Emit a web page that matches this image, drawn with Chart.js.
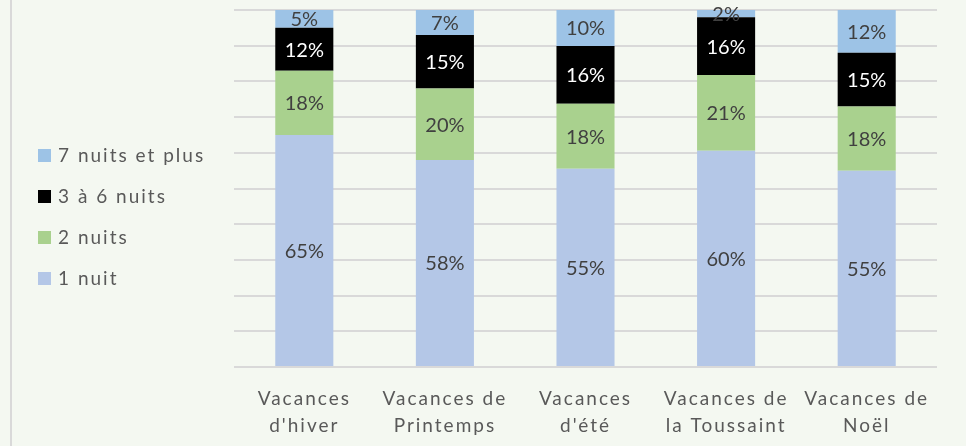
<!DOCTYPE html>
<html>
<head>
<meta charset="utf-8">
<script src="https://cdn.jsdelivr.net/npm/chart.js@4/dist/chart.umd.min.js"></script>
<style>
  html, body { margin: 0; padding: 0; background: #f4f8f1; }
  #wrap { position: relative; width: 966px; height: 446px; }
  #frame { position: absolute; left: 10px; top: 0; width: 2px; height: 446px; background: #d9d9d9; }
</style>
</head>
<body>
<div id="wrap">
  <div id="frame"></div>
  <canvas id="nightsChart" width="966" height="446"></canvas>
</div>
<script>
// Categories (two-line labels)
const categories = [
    ['Vacances', "d'hiver"],
    ['Vacances de', 'Printemps'],
    ['Vacances', "d'été"],
    ['Vacances de', 'la Toussaint'],
    ['Vacances de', 'Noël']
];

// Shares per length of stay (%)
const oneNight = [65, 58, 55, 60, 55];
const twoNights = [18, 20, 18, 21, 18];
const threeToSix = [12, 15, 16, 16, 15];
const sevenPlus = [5, 7, 10, 2, 12];

const seriesNames = ['1 nuit', '2 nuits', '3 à 6 nuits', '7 nuits et plus'];
const seriesColors = ['#b4c7e7', '#a9d18e', '#000000', '#9dc3e6'];
const labelColors = ['#404040', '#404040', '#ffffff', '#404040'];

const raw = [oneNight, twoNights, threeToSix, sevenPlus];

// 100% stacked: scale each category to its total
const totals = categories.map((c, i) => raw.reduce((s, arr) => s + arr[i], 0));

const FONT = 'Lato, "Open Sans", sans-serif';

// Wide letter spacing like the original
const spacingPlugin = {
    id: 'spacing',
    beforeDraw(chart) {
        chart.ctx.letterSpacing = '2px';
    }
};

// Percentage labels in each segment
const segmentLabels = {
    id: 'segmentLabels',
    afterDatasetsDraw(chart) {
        const ctx = chart.ctx;
        ctx.save();
        ctx.letterSpacing = '0px';
        ctx.font = '20px ' + FONT;
        ctx.textAlign = 'center';
        ctx.textBaseline = 'middle';
        chart.data.datasets.forEach((ds, di) => {
            const meta = chart.getDatasetMeta(di);
            meta.data.forEach((bar, i) => {
                const v = raw[di][i];
                ctx.fillStyle = labelColors[di];
                ctx.fillText(v + '%', bar.x, (bar.y + bar.base) / 2 + 1);
            });
        });
        ctx.restore();
    }
};

// Legend on the left, last series first
const sideLegend = {
    id: 'sideLegend',
    afterDraw(chart) {
        const ctx = chart.ctx;
        ctx.save();
        ctx.letterSpacing = '2px';
        ctx.font = '19px ' + FONT;
        ctx.textAlign = 'left';
        ctx.textBaseline = 'middle';
        const rows = [155, 196, 237, 278];
        for (let k = 0; k < seriesNames.length; k++) {
            const si = seriesNames.length - 1 - k;
            ctx.fillStyle = seriesColors[si];
            ctx.fillRect(38, rows[k] - 6, 13, 13);
            ctx.fillStyle = '#595959';
            ctx.fillText(seriesNames[si], 58, rows[k] + 1);
        }
        ctx.restore();
    }
};

const ctx = document.getElementById('nightsChart').getContext('2d');

new Chart(ctx, {
    type: 'bar',
    data: {
        labels: categories,
        datasets: raw.map((arr, di) => ({
            label: seriesNames[di],
            data: arr.map((v, i) => v / totals[i] * 100),
            backgroundColor: seriesColors[di],
            borderWidth: 0,
            categoryPercentage: 1,
            barPercentage: 0.413
        }))
    },
    options: {
        responsive: false,
        animation: false,
        layout: { padding: { left: 234, right: 29, top: 10, bottom: 0 } },
        plugins: {
            legend: { display: false },
            tooltip: { enabled: false }
        },
        scales: {
            x: {
                stacked: true,
                grid: { display: false },
                border: { display: false },
                ticks: {
                    color: '#595959',
                    font: { family: FONT, size: 19, lineHeight: 1.4 },
                    padding: 11,
                    maxRotation: 0,
                    autoSkip: false
                },
                afterFit(scale) { scale.height = 79; }
            },
            y: {
                stacked: true,
                min: 0,
                max: 100,
                ticks: { display: false, stepSize: 10 },
                border: { display: false },
                grid: { color: '#d9d9d9', lineWidth: 2, drawTicks: false }
            }
        }
    },
    plugins: [spacingPlugin, segmentLabels, sideLegend]
});
</script>
</body>
</html>
